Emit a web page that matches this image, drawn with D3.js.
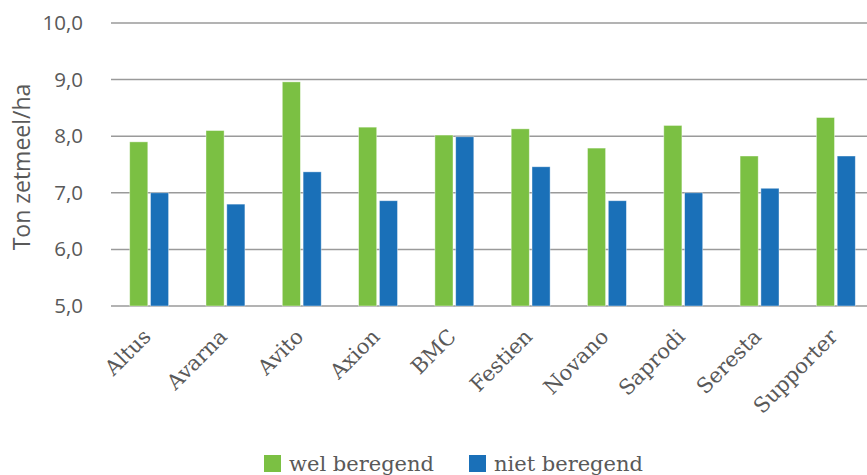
<!DOCTYPE html>
<html>
<head>
<meta charset="utf-8">
<script src="https://cdn.jsdelivr.net/npm/d3@7"></script>
<style>
  body { margin: 0; background: #fff; }
  svg { display: block; }
</style>
</head>
<body>
<svg id="chart" width="867" height="475"></svg>
<script>
// rassen en opbrengsten (ton zetmeel/ha)
const rassen = ["Altus", "Avarna", "Avito", "Axion", "BMC", "Festien", "Novano", "Saprodi", "Seresta", "Supporter"];
const welBeregend = [7.90, 8.10, 8.96, 8.16, 8.02, 8.13, 7.79, 8.19, 7.65, 8.33];
const nietBeregend = [7.00, 6.80, 7.37, 6.86, 7.99, 7.46, 6.86, 7.00, 7.08, 7.65];
const yTicks = [5, 6, 7, 8, 9, 10];
const series = [
    { name: "wel beregend", values: welBeregend, color: "#7bc043" },
    { name: "niet beregend", values: nietBeregend, color: "#1a70b8" }
];

const svg = d3.select("#chart");
const margin = { top: 23, left: 111, right: -7, bottom: 169 };
const width = 867 - margin.left - margin.right;
const height = 475 - margin.top - margin.bottom;
const g = svg.append("g").attr("transform", `translate(${margin.left},${margin.top})`);

const x = d3.scaleBand().domain(rassen).range([0, width]).paddingInner(0.49).paddingOuter(0.245);
const xs = d3.scaleBand().domain(series.map(s => s.name)).range([0, x.bandwidth()]).paddingInner(0.13);
const y = d3.scaleLinear().domain([5, 10]).range([height, 0]);

// rasterlijnen
g.append("g").selectAll("line").data(yTicks).join("line")
    .attr("x1", 0).attr("x2", width)
    .attr("y1", d => y(d)).attr("y2", d => y(d))
    .attr("stroke", "#9a9a9a").attr("stroke-width", 1.5);

// y-as labels
const yAxis = g.append("g").call(d3.axisLeft(y).tickValues(yTicks).tickSize(0).tickPadding(28)
    .tickFormat(d => d3.format(".1f")(d).replace(".", ",")));
yAxis.select(".domain").remove();
yAxis.selectAll("text").attr("font-family", "'Open Sans', sans-serif").attr("font-size", 20.5).attr("fill", "#595959");

// staven
series.forEach(s => {
    g.append("g").selectAll("rect").data(rassen).join("rect")
        .attr("x", (d) => x(d) + xs(s.name))
        .attr("width", xs.bandwidth())
        .attr("y", (d, i) => y(s.values[i]))
        .attr("height", (d, i) => y(5) - y(s.values[i]))
        .attr("fill", s.color)
        .attr("stroke", "#ffffff").attr("stroke-opacity", 0.5).attr("stroke-width", 0.8);
});

// x-as labels
const xAxis = g.append("g").attr("transform", `translate(0,${height})`)
    .call(d3.axisBottom(x).tickSize(0).tickPadding(0));
xAxis.select(".domain").remove();
xAxis.selectAll("text")
    .attr("font-family", "'DejaVu Serif', serif").attr("font-size", 21).attr("fill", "#595959")
    .attr("text-anchor", "end").attr("dy", 0).attr("dominant-baseline", "auto")
    .attr("transform", "translate(3,32) rotate(-45)");

// as-titel
g.append("text").attr("transform", "rotate(-90)")
    .attr("x", -144).attr("y", -81)
    .attr("text-anchor", "middle")
    .attr("font-family", "'Open Sans', sans-serif").attr("font-size", 23).attr("fill", "#595959")
    .text("Ton zetmeel/ha");

// legenda
const legend = svg.append("g").attr("transform", "translate(264,455)");
const legendX = [0, 205];
series.forEach((s, i) => {
    const item = legend.append("g").attr("transform", `translate(${legendX[i]},0)`);
    item.append("rect").attr("width", 17).attr("height", 17).attr("fill", s.color);
    item.append("text").attr("x", 25).attr("y", 16)
        .attr("font-family", "'DejaVu Serif', serif").attr("font-size", 21).attr("fill", "#595959")
        .text(s.name);
});
</script>
</body>
</html>
